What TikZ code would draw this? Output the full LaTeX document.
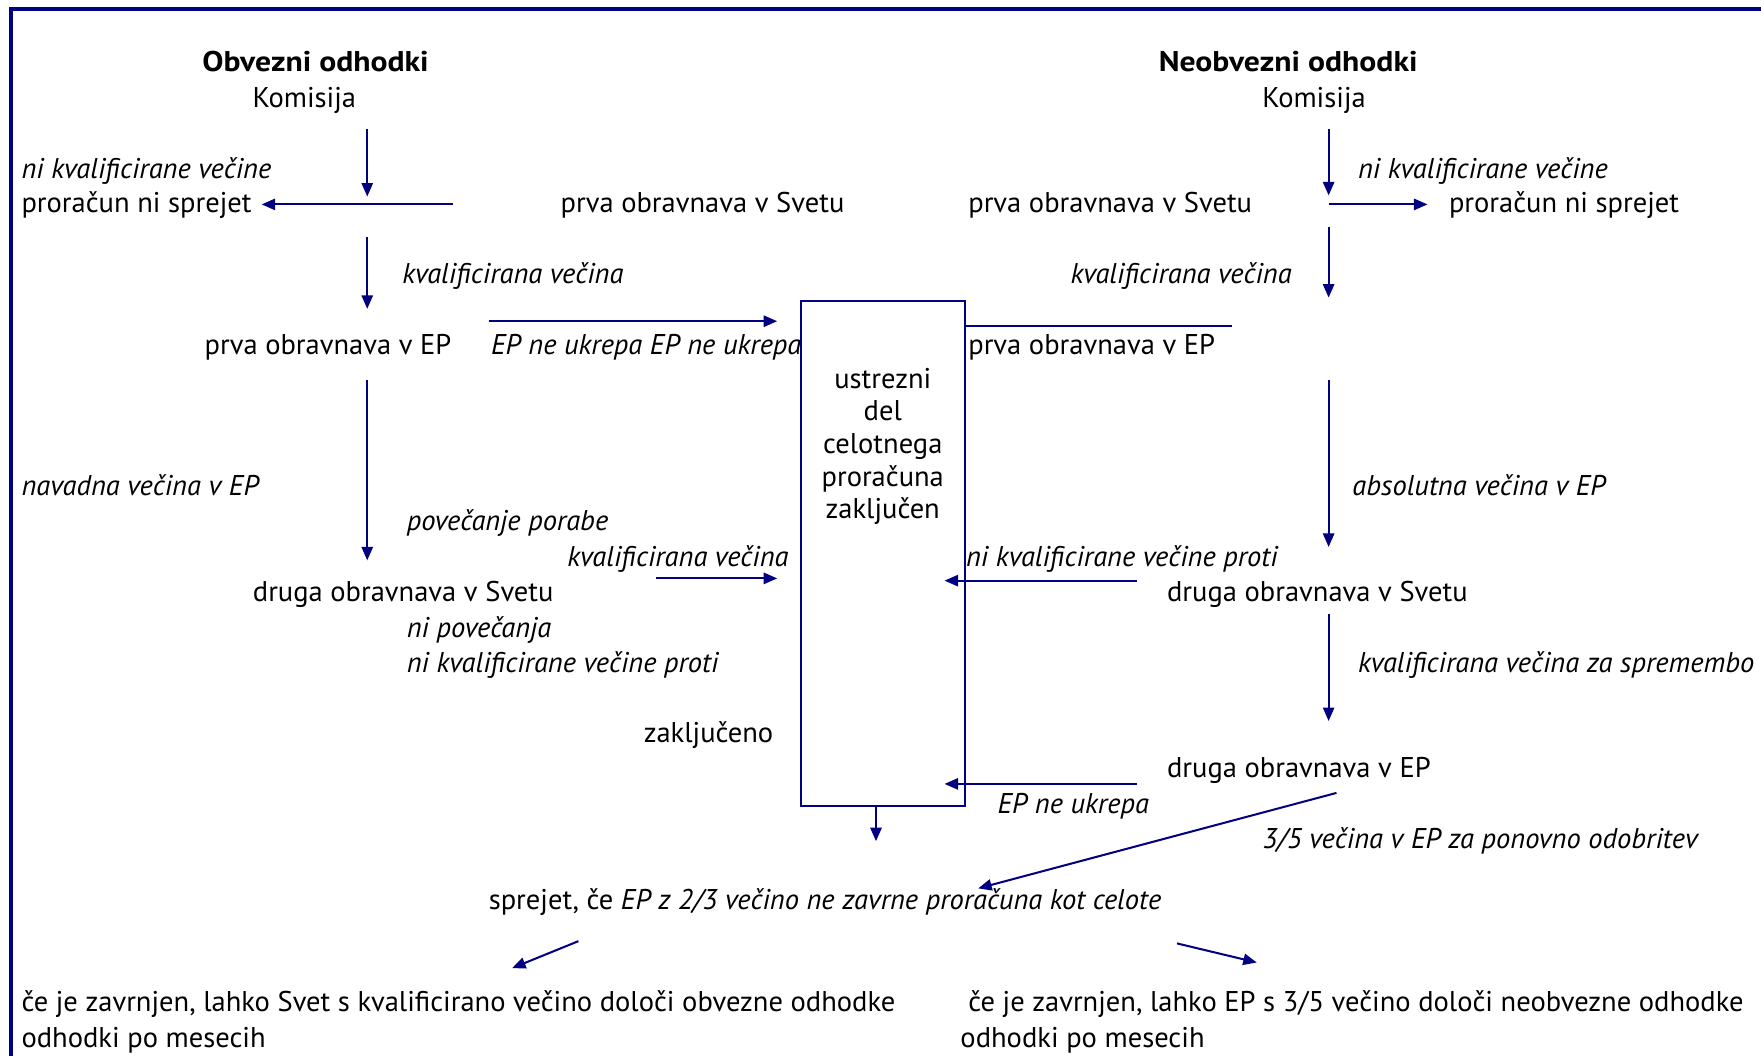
\documentclass[tikz,border=0pt]{standalone}
\usepackage{fontspec}
\setmainfont{PT Sans}[BoldFeatures={FakeStretch=1.11}]
\usetikzlibrary{arrows.meta}
\definecolor{fb}{RGB}{0,0,128}
\begin{document}
\begin{tikzpicture}[x=1pt,y=-1pt,
  txt/.style={inner sep=0pt, anchor=west, yshift=-2.5pt, font=\fontsize{25.4}{29}\selectfont, text height=18pt, text depth=6pt},
  it/.style={txt, font=\fontsize{25.4}{29}\selectfont\itshape},
  ctr/.style={txt, anchor=center},
  arr/.style={draw=fb, line width=1.8pt, -{Triangle[length=12pt,width=10pt]}},
  ln/.style={draw=fb, line width=1.8pt}]
\useasboundingbox (0,0) rectangle (1568,940);
\clip (0,0) rectangle (1568,940);
% frame
\draw[fb, line width=3.5pt] (10,960) -- (10,8) -- (1590,8);
% headings
\node[ctr, font=\fontsize{25.4}{29}\selectfont\bfseries] (h1) at (281,55) {Obvezni odhodki};
\node[ctr] (k1) at (271,87) {Komisija};
\node[ctr, font=\fontsize{25.4}{29}\selectfont\bfseries] (h2) at (1147,55) {Neobvezni odhodki};
\node[ctr] (k2) at (1170,87) {Komisija};
% left column texts
\node[it] (lnq) at (19,150) {ni kvalificirane večine};
\node[txt] (lns) at (19,181) {proračun ni sprejet};
\node[txt] (lpos) at (499,181) {prva obravnava v Svetu};
\node[it] (lkv) at (358,244) {kvalificirana večina};
\node[txt] (lpep) at (182,307) {prva obravnava v EP};
\node[it] (lepn) at (437,307) {EP ne ukrepa EP ne ukrepa};
\node[it] (lnav) at (19,433) {navadna večina v EP};
\node[it] (lpov) at (362,464) {povečanje porabe};
\node[it] (lkv2) at (505,496) {kvalificirana večina};
\node[txt] (ldos) at (225,527) {druga obravnava v Svetu};
\node[it] (lnip) at (362,559) {ni povečanja};
\node[it] (lnkp) at (362,590) {ni kvalificirane večine proti};
\node[txt] (lzak) at (573,653) {zaključeno};
% central box
\node[draw=fb, line width=1.8pt, minimum width=146pt, minimum height=450pt, inner sep=0pt] (box) at (786,493) {};
\node[ctr, align=center, text height=, text depth=] (boxt) at (786,395) {ustrezni\\del\\celotnega\\proračuna\\zaključen};
% right column texts
\node[it] (rnq) at (1209,150) {ni kvalificirane večine};
\node[txt] (rpos) at (862,181) {prva obravnava v Svetu};
\node[txt] (rns) at (1290,181) {proračun ni sprejet};
\node[it] (rkv) at (953,244) {kvalificirana večina};
\node[txt] (rpep) at (862,307) {prva obravnava v EP};
\node[it] (rabs) at (1204,433) {absolutna večina v EP};
\node[it] (rnkp) at (860,496) {ni kvalificirane večine proti};
\node[txt] (rdos) at (1039,527) {druga obravnava v Svetu};
\node[it] (rkvs) at (1209,590) {kvalificirana večina za spremembo};
\node[txt] (rdep) at (1039,684) {druga obravnava v EP};
\node[it] (repn) at (888,716) {EP ne ukrepa};
\node[it] (r35) at (1124,747) {3/5 večina v EP za ponovno odobritev};
% bottom texts
\node[txt] (spr) at (435,801) {sprejet, če \textit{EP z 2/3 večino ne zavrne proračuna kot celote}};
\node[txt] (bl1) at (19,892) {če je zavrnjen, lahko Svet s kvalificirano večino določi obvezne odhodke};
\node[txt] (bl2) at (19,924) {odhodki po mesecih};
\node[txt] (br1) at (862,892) {če je zavrnjen, lahko EP s 3/5 večino določi neobvezne odhodke};
\node[txt] (br2) at (855,924) {odhodki po mesecih};
% connector end points
\coordinate (a1s) at (327,115); \coordinate (a1e) at (327,175);
\coordinate (a2s) at (403,182); \coordinate (a2e) at (233,182);
\coordinate (a3s) at (327,211); \coordinate (a3e) at (327,275);
\coordinate (a4s) at (435,286); \coordinate (a4e) at (692,286);
\coordinate (a5s) at (327,338); \coordinate (a5e) at (327,499);
\coordinate (a6s) at (584,515); \coordinate (a6e) at (692,515);
\coordinate (a7s) at (780,718); \coordinate (a7e) at (780,749);
\coordinate (b1s) at (1183,115); \coordinate (b1e) at (1183,174);
\coordinate (b2s) at (1183,182); \coordinate (b2e) at (1271,182);
\coordinate (b3s) at (1183,202); \coordinate (b3e) at (1183,265);
\coordinate (b4s) at (859,290); \coordinate (b4e) at (1097,290);
\coordinate (b5s) at (1183,338); \coordinate (b5e) at (1183,487);
\coordinate (b6s) at (1012,517); \coordinate (b6e) at (841,517);
\coordinate (b7s) at (1183,547); \coordinate (b7e) at (1183,642);
\coordinate (b8s) at (1012,698); \coordinate (b8e) at (841,698);
\coordinate (b9s) at (1190,706); \coordinate (b9e) at (871,791);
\coordinate (c1s) at (515,838); \coordinate (c1e) at (456,862);
\coordinate (c2s) at (1048,840); \coordinate (c2e) at (1119,857);
% connectors
\draw[arr] (a1s) -- (a1e);
\draw[arr] (a2s) -- (a2e);
\draw[arr] (a3s) -- (a3e);
\draw[arr] (a4s) -- (a4e);
\draw[arr] (a5s) -- (a5e);
\draw[arr] (a6s) -- (a6e);
\draw[arr] (a7s) -- (a7e);
\draw[arr] (b1s) -- (b1e);
\draw[arr] (b2s) -- (b2e);
\draw[arr] (b3s) -- (b3e);
\draw[ln] (b4s) -- (b4e);
\draw[arr] (b5s) -- (b5e);
\draw[arr] (b6s) -- (b6e);
\draw[arr] (b7s) -- (b7e);
\draw[arr] (b8s) -- (b8e);
\draw[arr] (b9s) -- (b9e);
\draw[arr] (c1s) -- (c1e);
\draw[arr] (c2s) -- (c2e);
\end{tikzpicture}
\end{document}
